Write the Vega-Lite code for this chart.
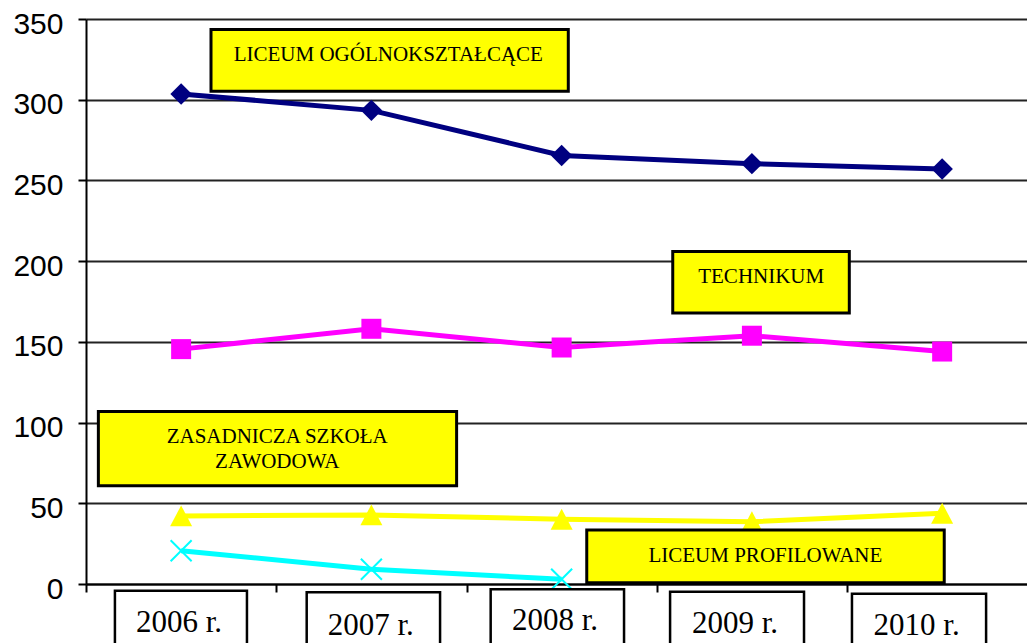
{
  "$schema": "https://vega.github.io/schema/vega-lite/v6.json",
  "autosize": "none",
  "padding": {"left": 86, "top": 19, "right": 0, "bottom": 59},
  "width": 941,
  "height": 565,
  "background": "white",
  "config": {"view": {"stroke": null}},
  "datasets": {
    "series": [
      {"series": "LO", "year": 2006, "value": 303.6},
      {"series": "LO", "year": 2007, "value": 293.4},
      {"series": "LO", "year": 2008, "value": 265.5},
      {"series": "LO", "year": 2009, "value": 260.4},
      {"series": "LO", "year": 2010, "value": 257.1},
      {"series": "T", "year": 2006, "value": 145.5},
      {"series": "T", "year": 2007, "value": 158.1},
      {"series": "T", "year": 2008, "value": 146.5},
      {"series": "T", "year": 2009, "value": 153.8},
      {"series": "T", "year": 2010, "value": 144.0},
      {"series": "ZSZ", "year": 2006, "value": 42.2},
      {"series": "ZSZ", "year": 2007, "value": 42.8},
      {"series": "ZSZ", "year": 2008, "value": 40.1},
      {"series": "ZSZ", "year": 2009, "value": 38.6},
      {"series": "ZSZ", "year": 2010, "value": 43.8},
      {"series": "LP", "year": 2006, "value": 20.6},
      {"series": "LP", "year": 2007, "value": 9.1},
      {"series": "LP", "year": 2008, "value": 2.9}
    ],
    "boxes": [
      {"x1": 2006.157, "x2": 2008.035, "y1": 343.5, "y2": 305.2},
      {"x1": 2008.584, "x2": 2009.512, "y1": 206.0, "y2": 167.8},
      {"x1": 2005.565, "x2": 2007.448, "y1": 106.8, "y2": 60.8},
      {"x1": 2008.132, "x2": 2010.011, "y1": 33.5, "y2": 0.8}
    ],
    "notes": [
      {"text": "LICEUM OGÓLNOKSZTAŁCĄCE", "x": 2007.089, "y": 323.8},
      {"text": "TECHNIKUM", "x": 2009.049, "y": 186.4},
      {"text": "ZASADNICZA SZKOŁA", "x": 2006.505, "y": 87.2},
      {"text": "ZAWODOWA", "x": 2006.505, "y": 71.7},
      {"text": "LICEUM PROFILOWANE", "x": 2009.071, "y": 13.8}
    ],
    "xboxes": [
      {"x1": 2005.652, "x2": 2006.346, "y1": -4.2, "y2": -45},
      {"x1": 2006.660, "x2": 2007.361, "y1": -5.1, "y2": -45},
      {"x1": 2007.627, "x2": 2008.328, "y1": -3.3, "y2": -45},
      {"x1": 2008.570, "x2": 2009.274, "y1": -4.8, "y2": -45},
      {"x1": 2009.526, "x2": 2010.231, "y1": -6.0, "y2": -45}
    ],
    "xlabels": [
      {"text": "2006 r.", "x": 2005.989, "y": -30.0},
      {"text": "2007 r.", "x": 2006.997, "y": -31.6},
      {"text": "2008 r.", "x": 2007.965, "y": -28.5},
      {"text": "2009 r.", "x": 2008.911, "y": -30.6},
      {"text": "2010 r.", "x": 2009.866, "y": -31.6}
    ]
  },
  "layer": [
    {
      "data": {"name": "series"},
      "transform": [{"filter": "datum.series === 'LO'"}],
      "mark": {"type": "line", "color": "#000080", "strokeWidth": 5,
               "point": {"shape": "diamond", "size": 460, "filled": true, "color": "#000080", "opacity": 1}},
      "encoding": {
        "x": {"field": "year", "type": "quantitative",
              "scale": {"domain": [2005.5, 2010.446], "nice": false, "zero": false},
              "axis": {"values": [2005.5, 2006.5, 2007.5, 2008.5, 2009.5], "labels": false, "title": null,
                       "grid": false, "domain": true, "domainColor": "#000000", "domainWidth": 2,
                       "ticks": true, "tickColor": "#000000", "tickWidth": 2, "tickSize": 8}},
        "y": {"field": "value", "type": "quantitative",
              "scale": {"domain": [0, 350], "nice": false},
              "axis": {"values": [0, 50, 100, 150, 200, 250, 300, 350], "title": null,
                       "grid": true, "gridColor": "#222222", "gridWidth": 2,
                       "domain": true, "domainColor": "#000000", "domainWidth": 2,
                       "ticks": true, "tickColor": "#000000", "tickWidth": 2, "tickSize": 8,
                       "labelFont": "Liberation Sans", "labelFontSize": 30, "labelColor": "#000000",
                       "labelPadding": 15, "labelOffset": 5}}
      }
    },
    {
      "data": {"name": "series"},
      "transform": [{"filter": "datum.series === 'T'"}],
      "mark": {"type": "line", "color": "#FF00FF", "strokeWidth": 5,
               "point": {"shape": "square", "size": 400, "filled": true, "color": "#FF00FF", "opacity": 1}},
      "encoding": {
        "x": {"field": "year", "type": "quantitative"},
        "y": {"field": "value", "type": "quantitative"}
      }
    },
    {
      "data": {"name": "series"},
      "transform": [{"filter": "datum.series === 'ZSZ'"}],
      "mark": {"type": "line", "color": "#FFFF00", "strokeWidth": 5,
               "point": {"shape": "M0,-0.95L1,0.95L-1,0.95Z", "size": 484, "filled": true, "color": "#FFFF00", "opacity": 1}},
      "encoding": {
        "x": {"field": "year", "type": "quantitative"},
        "y": {"field": "value", "type": "quantitative"}
      }
    },
    {
      "data": {"name": "series"},
      "transform": [{"filter": "datum.series === 'LP'"}],
      "mark": {"type": "line", "color": "#00FFFF", "strokeWidth": 5,
               "point": {"shape": "M-1,-1L1,1M-1,1L1,-1", "size": 441, "filled": false, "color": "#00FFFF", "strokeWidth": 2, "opacity": 1}},
      "encoding": {
        "x": {"field": "year", "type": "quantitative"},
        "y": {"field": "value", "type": "quantitative"}
      }
    },
    {
      "data": {"name": "boxes"},
      "mark": {"type": "rect", "fill": "#FFFF00", "stroke": "#000000", "strokeWidth": 3},
      "encoding": {
        "x": {"field": "x1", "type": "quantitative"},
        "x2": {"field": "x2"},
        "y": {"field": "y1", "type": "quantitative"},
        "y2": {"field": "y2"}
      }
    },
    {
      "data": {"name": "notes"},
      "mark": {"type": "text", "font": "Liberation Serif", "fontSize": 21, "color": "#000000",
               "align": "center", "baseline": "alphabetic"},
      "encoding": {
        "x": {"field": "x", "type": "quantitative"},
        "y": {"field": "y", "type": "quantitative"},
        "text": {"field": "text", "type": "nominal"}
      }
    },
    {
      "data": {"name": "xboxes"},
      "mark": {"type": "rect", "fill": "#FFFFFF", "stroke": "#000000", "strokeWidth": 2.5},
      "encoding": {
        "x": {"field": "x1", "type": "quantitative"},
        "x2": {"field": "x2"},
        "y": {"field": "y1", "type": "quantitative"},
        "y2": {"field": "y2"}
      }
    },
    {
      "data": {"name": "xlabels"},
      "mark": {"type": "text", "font": "Liberation Serif", "fontSize": 31, "color": "#000000",
               "align": "center", "baseline": "alphabetic"},
      "encoding": {
        "x": {"field": "x", "type": "quantitative"},
        "y": {"field": "y", "type": "quantitative"},
        "text": {"field": "text", "type": "nominal"}
      }
    }
  ]
}
